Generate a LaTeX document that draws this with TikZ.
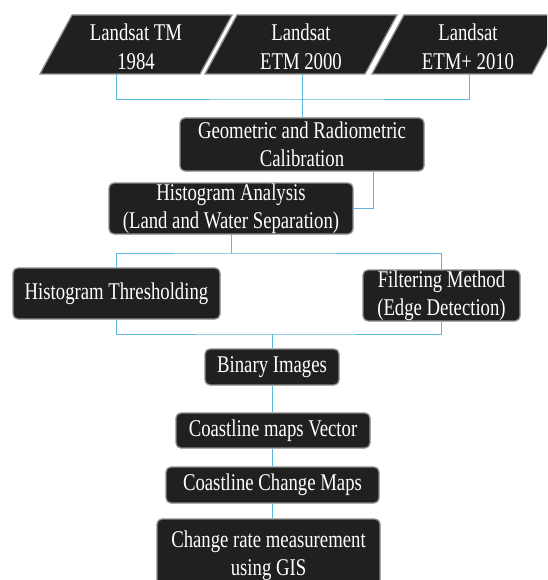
\documentclass[tikz,border=0pt]{standalone}
\usepackage{fontspec}
\setmainfont{Liberation Serif}[FakeStretch=0.78]
\definecolor{boxfill}{RGB}{32,32,32}
\definecolor{boxedge}{RGB}{140,140,140}
\definecolor{connblue}{RGB}{90,185,220}
\tikzset{
  stepbox/.style={rectangle, rounded corners=5pt, fill=boxfill, draw=boxedge, line width=1.3pt,
    text=white, inner sep=0pt, align=center, font=\fontsize{24}{28}\selectfont},
  pshape/.style={fill=boxfill, draw=boxedge, line width=1.3pt},
  ptext/.style={text=white, inner sep=0pt, align=center, font=\fontsize{24}{29}\selectfont},
  conn/.style={draw=connblue, line width=0.9pt}
}
\begin{document}
\begin{tikzpicture}[x=1pt,y=-1pt]
\clip (0,0) rectangle (547,580);
\fill[white] (0,0) rectangle (547,580);
% parallelograms
\draw[pshape] (40,74) -- (72,15) -- (232,15) -- (200,74) -- cycle;
\draw[pshape] (205,74) -- (237,15) -- (397,15) -- (365,74) -- cycle;
\draw[pshape] (372,74) -- (404,15) -- (564,15) -- (532,74) -- cycle;
\node[ptext] (p1) at (136,47) {Landsat TM\\1984};
\node[ptext] (p2) at (301,47) {Landsat\\ETM 2000};
\node[ptext] (p3) at (468,47) {Landsat\\ETM+ 2010};
\coordinate (p1s) at (116,74);
\coordinate (p2s) at (302,74);
\coordinate (p3s) at (469,74);
\coordinate (j1) at (302,99);
% boxes
\node[stepbox, minimum width=244pt, minimum height=53pt] (geo) at (302,144.5) {Geometric and Radiometric\\Calibration};
\node[stepbox, minimum width=244pt, minimum height=51pt] (ha) at (231,208.5) {Histogram Analysis\\(Land and Water Separation)};
\node[stepbox, minimum width=207pt, minimum height=51pt] (ht) at (116.5,293.5) {Histogram Thresholding};
\node[stepbox, minimum width=157pt, minimum height=51pt] (fm) at (441.5,295.5) {Filtering Method\\(Edge Detection)};
\node[stepbox, minimum width=134pt, minimum height=36pt] (bin) at (272,367) {Binary Images};
\node[stepbox, minimum width=194pt, minimum height=35pt] (cmv) at (273,430.5) {Coastline maps Vector};
\node[stepbox, minimum width=213pt, minimum height=36pt] (ccm) at (272.5,485) {Coastline Change Maps};
\node[stepbox, minimum width=223pt, minimum height=74pt] (cr) at (268.5,556) {Change rate measurement\\using GIS};
\coordinate (j2) at (231,253);
\coordinate (j3) at (272,334);
% connectors
\draw[conn] (p1s) |- (j1) -| (p3s);
\draw[conn] (p2s) -- (geo.north);
\draw[conn] ([xshift=71pt]geo.south) |- (ha.east);
\draw[conn] (ha.south) -- (j2);
\draw[conn] (ht.north) |- (j2) -| (fm.north);
\draw[conn] (ht.south) |- (j3) -| (fm.south);
\draw[conn] (j3) -- (bin.north);
\draw[conn] (bin.south) -- (bin.south |- cmv.north);
\draw[conn] (bin.south |- cmv.south) -- (bin.south |- ccm.north);
\draw[conn] (bin.south |- ccm.south) -- (bin.south |- cr.north);
\end{tikzpicture}
\end{document}
